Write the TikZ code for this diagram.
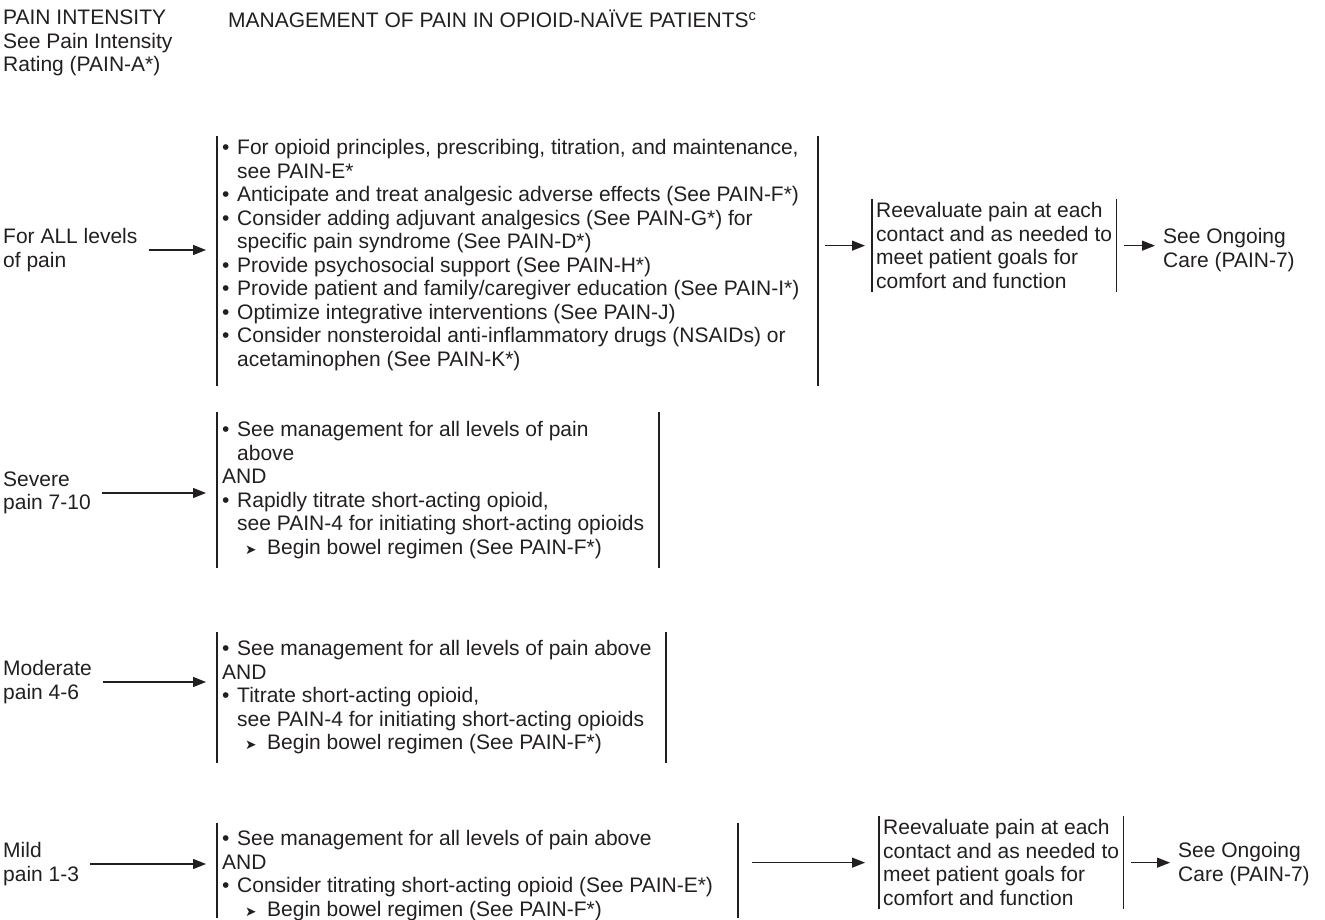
\documentclass[tikz,border=0pt]{standalone}
\usepackage{fontspec}
\setmainfont{Liberation Sans}
\newfontfamily\arrowfont{DejaVu Sans}
\usepackage{graphicx}
\usetikzlibrary{arrows.meta, positioning}
\definecolor{ink}{RGB}{35,31,32}
\newcommand{\bulletmark}{\makebox[15pt][l]{\textbullet}}
\newcommand{\contind}{\hspace*{15pt}}
\newcommand{\subarr}{\hspace*{23pt}\makebox[22pt][l]{\arrowfont\scalebox{0.65}{➤}}}
\tikzset{every picture/.style={x=1pt,y=-1pt},
  txt/.style={inner sep=0pt,align=left,text=ink,font=\fontsize{21}{23.5}\selectfont},
  blk/.style={txt,anchor=north west,inner xsep=5pt},
  revbox/.style={txt,anchor=north west,inner xsep=4pt,inner ysep=3.5pt},
  bar/.style={draw=ink,line width=1.2pt},
  arr/.style={draw=ink,line width=1.2pt,-{Triangle[length=13pt,width=10pt]},shorten <=8pt,shorten >=8pt}}

\begin{document}
\begin{tikzpicture}
  \useasboundingbox (0,0) rectangle (1325,920);

  % header
  \node[txt,anchor=north west] (hd) at (3,10) {PAIN INTENSITY\\See Pain Intensity\\Rating (PAIN-A*)};
  \node[txt,anchor=north west] (title) at (228,10) {MANAGEMENT OF PAIN IN OPIOID-NAÏVE PATIENTS\textsuperscript{c}};

  % pain levels
  \node[txt,anchor=west] (lall) at (3,250) {For ALL levels\\of pain};
  \node[txt,anchor=west] (lsev) at (3,493) {Severe\\pain 7-10};
  \node[txt,anchor=west] (lmod) at (3,682) {Moderate\\pain 4-6};
  \node[txt,anchor=west] (lmild) at (3,864) {Mild\\pain 1-3};

  % management boxes
  \node[blk,inner ysep=3.5pt] (ball) at (217,136) {%
    \bulletmark For opioid principles, prescribing, titration, and maintenance,\\
    \contind see PAIN-E*\\
    \bulletmark Anticipate and treat analgesic adverse effects (See PAIN-F*)\\
    \bulletmark Consider adding adjuvant analgesics (See PAIN-G*) for\\
    \contind specific pain syndrome (See PAIN-D*)\\
    \bulletmark Provide psychosocial support (See PAIN-H*)\\
    \bulletmark Provide patient and family/caregiver education (See PAIN-I*)\\
    \bulletmark Optimize integrative interventions (See PAIN-J)\\
    \bulletmark Consider nonsteroidal anti-inflammatory drugs (NSAIDs) or\\
    \contind acetaminophen (See PAIN-K*)};
  \node[blk,inner ysep=9.5pt] (bsev) at (217,412) {%
    \bulletmark See management for all levels of pain\\
    \contind above\\
    AND\\
    \bulletmark Rapidly titrate short-acting opioid,\\
    \contind see PAIN-4 for initiating short-acting opioids\\
    \subarr Begin bowel regimen (See PAIN-F*)};
  \node[blk,inner ysep=8.5pt] (bmod) at (217,632) {%
    \bulletmark See management for all levels of pain above\\
    AND\\
    \bulletmark Titrate short-acting opioid,\\
    \contind see PAIN-4 for initiating short-acting opioids\\
    \subarr Begin bowel regimen (See PAIN-F*)};
  \node[blk,inner ysep=7.5pt] (bmild) at (217,823) {%
    \bulletmark See management for all levels of pain above\\
    AND\\
    \bulletmark Consider titrating short-acting opioid (See PAIN-E*)\\
    \subarr Begin bowel regimen (See PAIN-F*)};

  % reevaluation
  \node[revbox] (rev1) at (872,199) {Reevaluate pain at each\\contact and as needed to\\meet patient goals for\\comfort and function};
  \node[revbox] (rev2) at (879,816) {Reevaluate pain at each\\contact and as needed to\\meet patient goals for\\comfort and function};
  \node[txt,anchor=west] (ong1) at (1163,250) {See Ongoing\\Care (PAIN-7)};
  \node[txt,anchor=west] (ong2) at (1178,864) {See Ongoing\\Care (PAIN-7)};

  % side bars: left at the box, right at a set width, extra length at the foot
  \foreach \b/\w/\e in {ball/601/12, bsev/442/0, bmod/449/0, bmild/521/-10} {
    \draw[bar] (\b.north west) -- ([yshift=-\e pt]\b.south west);
    \draw[bar] ([xshift=\w pt]\b.north west) -- ([xshift=\w pt,yshift=-\e pt]\b.south west);
  }
  \foreach \b in {rev1, rev2} {
    \draw[bar] (\b.north west) -- (\b.south west);
    \draw[bar] (\b.north east) -- (\b.south east);
  }

  % arrows
  \draw[arr,shorten <=11pt,shorten >=11pt] (lall.east) -- (lall.east -| ball.west);
  \draw[arr,shorten <=11pt,shorten >=11pt] (lsev.east) -- (lsev.east -| bsev.west);
  \draw[arr,shorten <=11pt,shorten >=11pt] (lmod.east) -- (lmod.east -| bmod.west);
  \draw[arr,shorten <=11pt,shorten >=11pt] (lmild.east) -- (lmild.east -| bmild.west);
  \draw[arr,shorten <=7pt,shorten >=7pt] ([xshift=601pt]rev1.west -| ball.west) -- (rev1.west);
  \draw[arr] (rev1.east) -- (rev1.east -| ong1.west);
  \draw[arr,shorten <=14pt,shorten >=14pt] ([xshift=521pt]rev2.west -| bmild.west) -- (rev2.west);
  \draw[arr] (rev2.east) -- (rev2.east -| ong2.west);
\end{tikzpicture}
\end{document}
